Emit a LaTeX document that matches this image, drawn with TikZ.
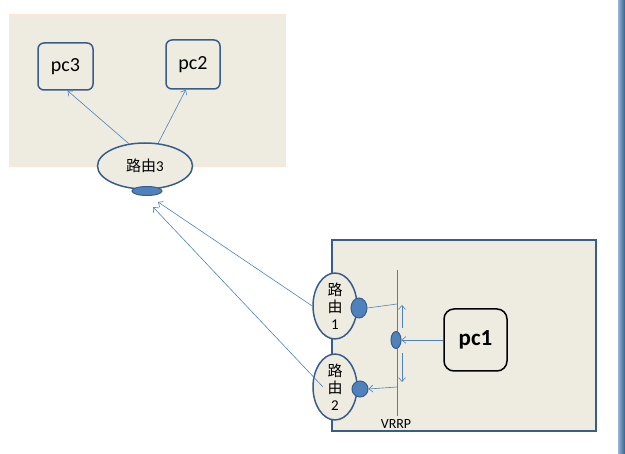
\documentclass[tikz,border=0pt]{standalone}
\usepackage{fontspec}
\setmainfont{Carlito}
\newfontfamily\cjk{Noto Sans CJK SC}
\usetikzlibrary{arrows.meta,shapes.geometric}
\definecolor{paper}{HTML}{EEECE1}
\definecolor{peach}{HTML}{FBE5D6}
\definecolor{navy}{HTML}{385D8A}
\definecolor{wire}{HTML}{4F81BD}
\begin{document}
\begin{tikzpicture}[
  x=1pt, y=-1pt,
  zone/.style={rectangle, draw=navy, fill=paper, line width=1.5pt, inner sep=0pt},
  pcbox/.style={
    rectangle, rounded corners=6pt, draw=navy, fill=paper, line width=1.5pt,
    minimum width=55pt, minimum height=47pt, inner sep=0pt,
    font=\fontsize{20}{22}\selectfont
  },
  router/.style={ellipse, draw=navy, fill=paper, line width=1.5pt, inner sep=0pt,
    align=center, font=\fontsize{15}{17}\selectfont},
  port/.style={ellipse, draw=navy, fill=wire, line width=1pt, inner sep=0pt},
  link/.style={draw=wire, line width=0.6pt},
  arrow/.style={link, -{Straight Barb[length=4pt,width=7pt]}},
]
\useasboundingbox (0,0) rectangle (625,454);

% right edge bar
\shade[left color=wire!60, right color=navy] (618,0) rectangle (625,454);

% zones
\node[zone, draw=peach, line width=1pt, minimum width=276pt, minimum height=152pt] (lan) at (147,91) {};
\node[zone, minimum width=264pt, minimum height=191pt] (site) at (464,335.5) {};

% hosts
\node[pcbox] (pc3) at (65.5,66.5) {pc3};
\node[pcbox, minimum width=54pt, minimum height=49pt] (pc2) at (193,64.5) {pc2};
\node[pcbox, draw=black, rounded corners=10pt, minimum width=63pt, minimum height=62pt,
  font=\fontsize{23}{25}\selectfont\bfseries] (pc1) at (475.5,340) {pc1};

% routers and ports
\node[router, minimum width=95pt, minimum height=46pt] (r3) at (145,166) {{\cjk 路由}3};
\node[port, minimum width=30pt, minimum height=9pt] (p3) at (147,191) {};
\node[router, minimum width=44pt, minimum height=56pt] (r1) at (335,306) {{\cjk 路}\\{\cjk 由}\\1};
\node[port, minimum width=16pt, minimum height=20pt] (p1) at (359,308) {};
\node[router, minimum width=44pt, minimum height=60pt] (r2) at (335,387) {{\cjk 路}\\{\cjk 由}\\2};
\node[port, minimum width=16pt, minimum height=16pt] (p2) at (360,389) {};

% VRRP virtual line
\coordinate (vtop) at (397,270);
\coordinate (vbot) at (397,416);
\coordinate (v1) at (397,304);
\coordinate (v2) at (397,387);
\draw[link] (vtop) -- (vbot);
\node[port, minimum width=10pt, minimum height=17pt] (vp) at (396,340) {};
\node[font=\fontsize{14}{16}\selectfont] (vlab) at (396,424) {VRRP};

% links
\draw[arrow] (r3.126) -- (pc3.-85);
\draw[arrow] (r3.60) -- (pc2.-106);
\coordinate (in1) at (158,202);
\coordinate (in2) at (153,207);
\draw[arrow] (r1.west) -- (in1);
\draw[arrow] ([xshift=-12pt]r2.center) -- (in2);
\draw[link] (p1.east) -- (v1);
\draw[arrow] (v2) -- (p2.east);
\draw[arrow] (pc1.west) -- (vp.east);

% switchover arrows
\coordinate (a1) at (402,328);
\coordinate (a2) at (402,305);
\coordinate (b1) at (402,353);
\coordinate (b2) at (402,382);
\draw[arrow] (a1) -- (a2);
\draw[arrow] (b1) -- (b2);

\end{tikzpicture}
\end{document}
